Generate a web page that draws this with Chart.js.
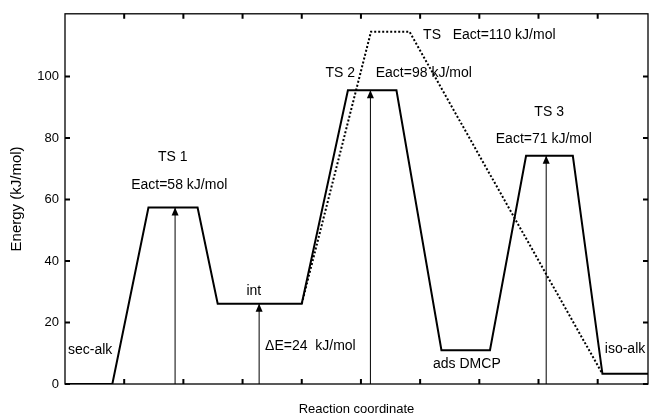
<!DOCTYPE html>
<html>
<head>
<meta charset="utf-8">
<script src="https://cdn.jsdelivr.net/npm/chart.js@4"></script>
<style>
  html, body { margin: 0; padding: 0; background: #fff; }
  #wrap { width: 649px; height: 418px; }
</style>
</head>
<body>
<div id="wrap"><canvas id="energyChart"></canvas></div>
<script>
// main pathway (solid)
const pathX = [0, 0.8, 1.41, 2.24, 2.58, 4.0, 4.78, 5.6, 6.36, 7.18, 7.79, 8.58, 9.08, 9.85];
const pathE = [0, 0, 57.4, 57.4, 26.1, 26.1, 95.5, 95.5, 11.0, 11.0, 74.2, 74.2, 3.3, 3.3];

// direct pathway (dotted)
const altX = [4.0, 5.17, 5.82, 9.08];
const altE = [26.1, 114.6, 114.6, 3.3];

// energy arrows from zero
const arrowX = [1.86, 3.28, 5.16, 8.13];
const arrowTop = [57.4, 26.1, 95.5, 74.2];

const yTicks = [0, 20, 40, 60, 80, 100];
const xTicks = [1, 2, 3, 4, 5, 6, 7, 8, 9];

// annotations
const noteText = ["sec-alk", "TS 1", "Eact=58 kJ/mol", "int", "\u0394E=24  kJ/mol", "TS 2",
  "Eact=98 kJ/mol", "TS", "Eact=110 kJ/mol", "TS 3", "Eact=71 kJ/mol", "ads DMCP", "iso-alk"];
const noteX = [0.05, 1.82, 1.93, 3.19, 3.38, 4.65, 5.25, 6.05, 6.55, 8.18, 8.09, 6.79, 9.12];
const noteE = [10.9, 73.7, 64.6, 30.3, 12.2, 101, 101, 113.6, 113.6, 88.3, 79.6, 6.6, 11.2];
const noteAlign = ["left", "center", "center", "center", "left", "center",
  "left", "left", "left", "center", "center", "center", "left"];

const pts = (xs, ys) => xs.map((x, i) => ({ x: x, y: ys[i] }));

const datasets = [
  { data: pts(pathX, pathE), borderColor: '#000', borderWidth: 2, pointRadius: 0, showLine: true, tension: 0 },
  { data: pts(altX, altE), borderColor: '#000', borderWidth: 2, borderDash: [2, 2], pointRadius: 0, showLine: true, tension: 0 }
];
arrowX.forEach((x, i) => {
  datasets.push({ data: [{ x: x, y: 0 }, { x: x, y: arrowTop[i] }], borderColor: '#000', borderWidth: 1,
    pointRadius: 0, showLine: true, isArrow: true });
});

const framePlugin = {
  id: 'frame',
  afterDatasetsDraw(chart) {
    const c = chart.ctx, a = chart.chartArea;
    const xs = chart.scales.x, ys = chart.scales.y;
    c.save();
    // arrow heads
    c.fillStyle = '#000';
    chart.data.datasets.forEach((ds, i) => {
      if (!ds.isArrow) return;
      const p = chart.getDatasetMeta(i).data[1];
      c.beginPath();
      c.moveTo(p.x, p.y);
      c.lineTo(p.x - 3.5, p.y + 8);
      c.lineTo(p.x + 3.5, p.y + 8);
      c.closePath();
      c.fill();
    });
    // frame
    c.strokeStyle = '#000';
    c.lineWidth = 1.3;
    c.strokeRect(a.left, a.top, a.right - a.left, a.bottom - a.top);
    // inward ticks
    c.lineWidth = 2;
    c.beginPath();
    yTicks.forEach(v => {
      const py = ys.getPixelForValue(v);
      c.moveTo(a.left, py); c.lineTo(a.left + 5, py);
      c.moveTo(a.right, py); c.lineTo(a.right - 5, py);
    });
    xTicks.forEach(v => {
      const px = xs.getPixelForValue(v);
      c.moveTo(px, a.bottom); c.lineTo(px, a.bottom - 5);
      c.moveTo(px, a.top); c.lineTo(px, a.top + 5);
    });
    c.stroke();
    // text notes
    c.font = '14px "Liberation Sans", Arial, sans-serif';
    c.textBaseline = 'middle';
    noteText.forEach((t, i) => {
      c.textAlign = noteAlign[i];
      c.fillText(t, xs.getPixelForValue(noteX[i]), ys.getPixelForValue(noteE[i]));
    });
    c.restore();
  }
};

new Chart(document.getElementById('energyChart'), {
  type: 'scatter',
  data: { datasets: datasets },
  options: {
    responsive: true,
    maintainAspectRatio: false,
    animation: false,
    layout: { padding: { top: 13, right: 1, left: 0, bottom: 0 } },
    plugins: { legend: { display: false }, tooltip: { enabled: false } },
    scales: {
      x: {
        type: 'linear', min: 0, max: 9.85,
        grid: { display: false }, border: { display: false },
        ticks: { display: false, stepSize: 1 },
        title: { display: true, text: 'Reaction coordinate', color: '#000',
          font: { family: '"Liberation Sans", Arial, sans-serif', size: 13 }, padding: { top: 4, bottom: 1 } },
        afterFit: s => { s.height = 34; }
      },
      y: {
        type: 'linear', min: 0, max: 120.4,
        grid: { display: false, drawTicks: false }, border: { display: false },
        afterBuildTicks: s => { s.ticks = yTicks.map(v => ({ value: v })); },
        ticks: { color: '#000', padding: 6, font: { family: '"Liberation Sans", Arial, sans-serif', size: 13 } },
        title: { display: true, text: 'Energy (kJ/mol)', color: '#000',
          font: { family: '"Liberation Sans", Arial, sans-serif', size: 15 }, padding: { top: 8, bottom: 0 } },
        afterFit: s => { s.width = 65; }
      }
    }
  },
  plugins: [framePlugin]
});
</script>
</body>
</html>
